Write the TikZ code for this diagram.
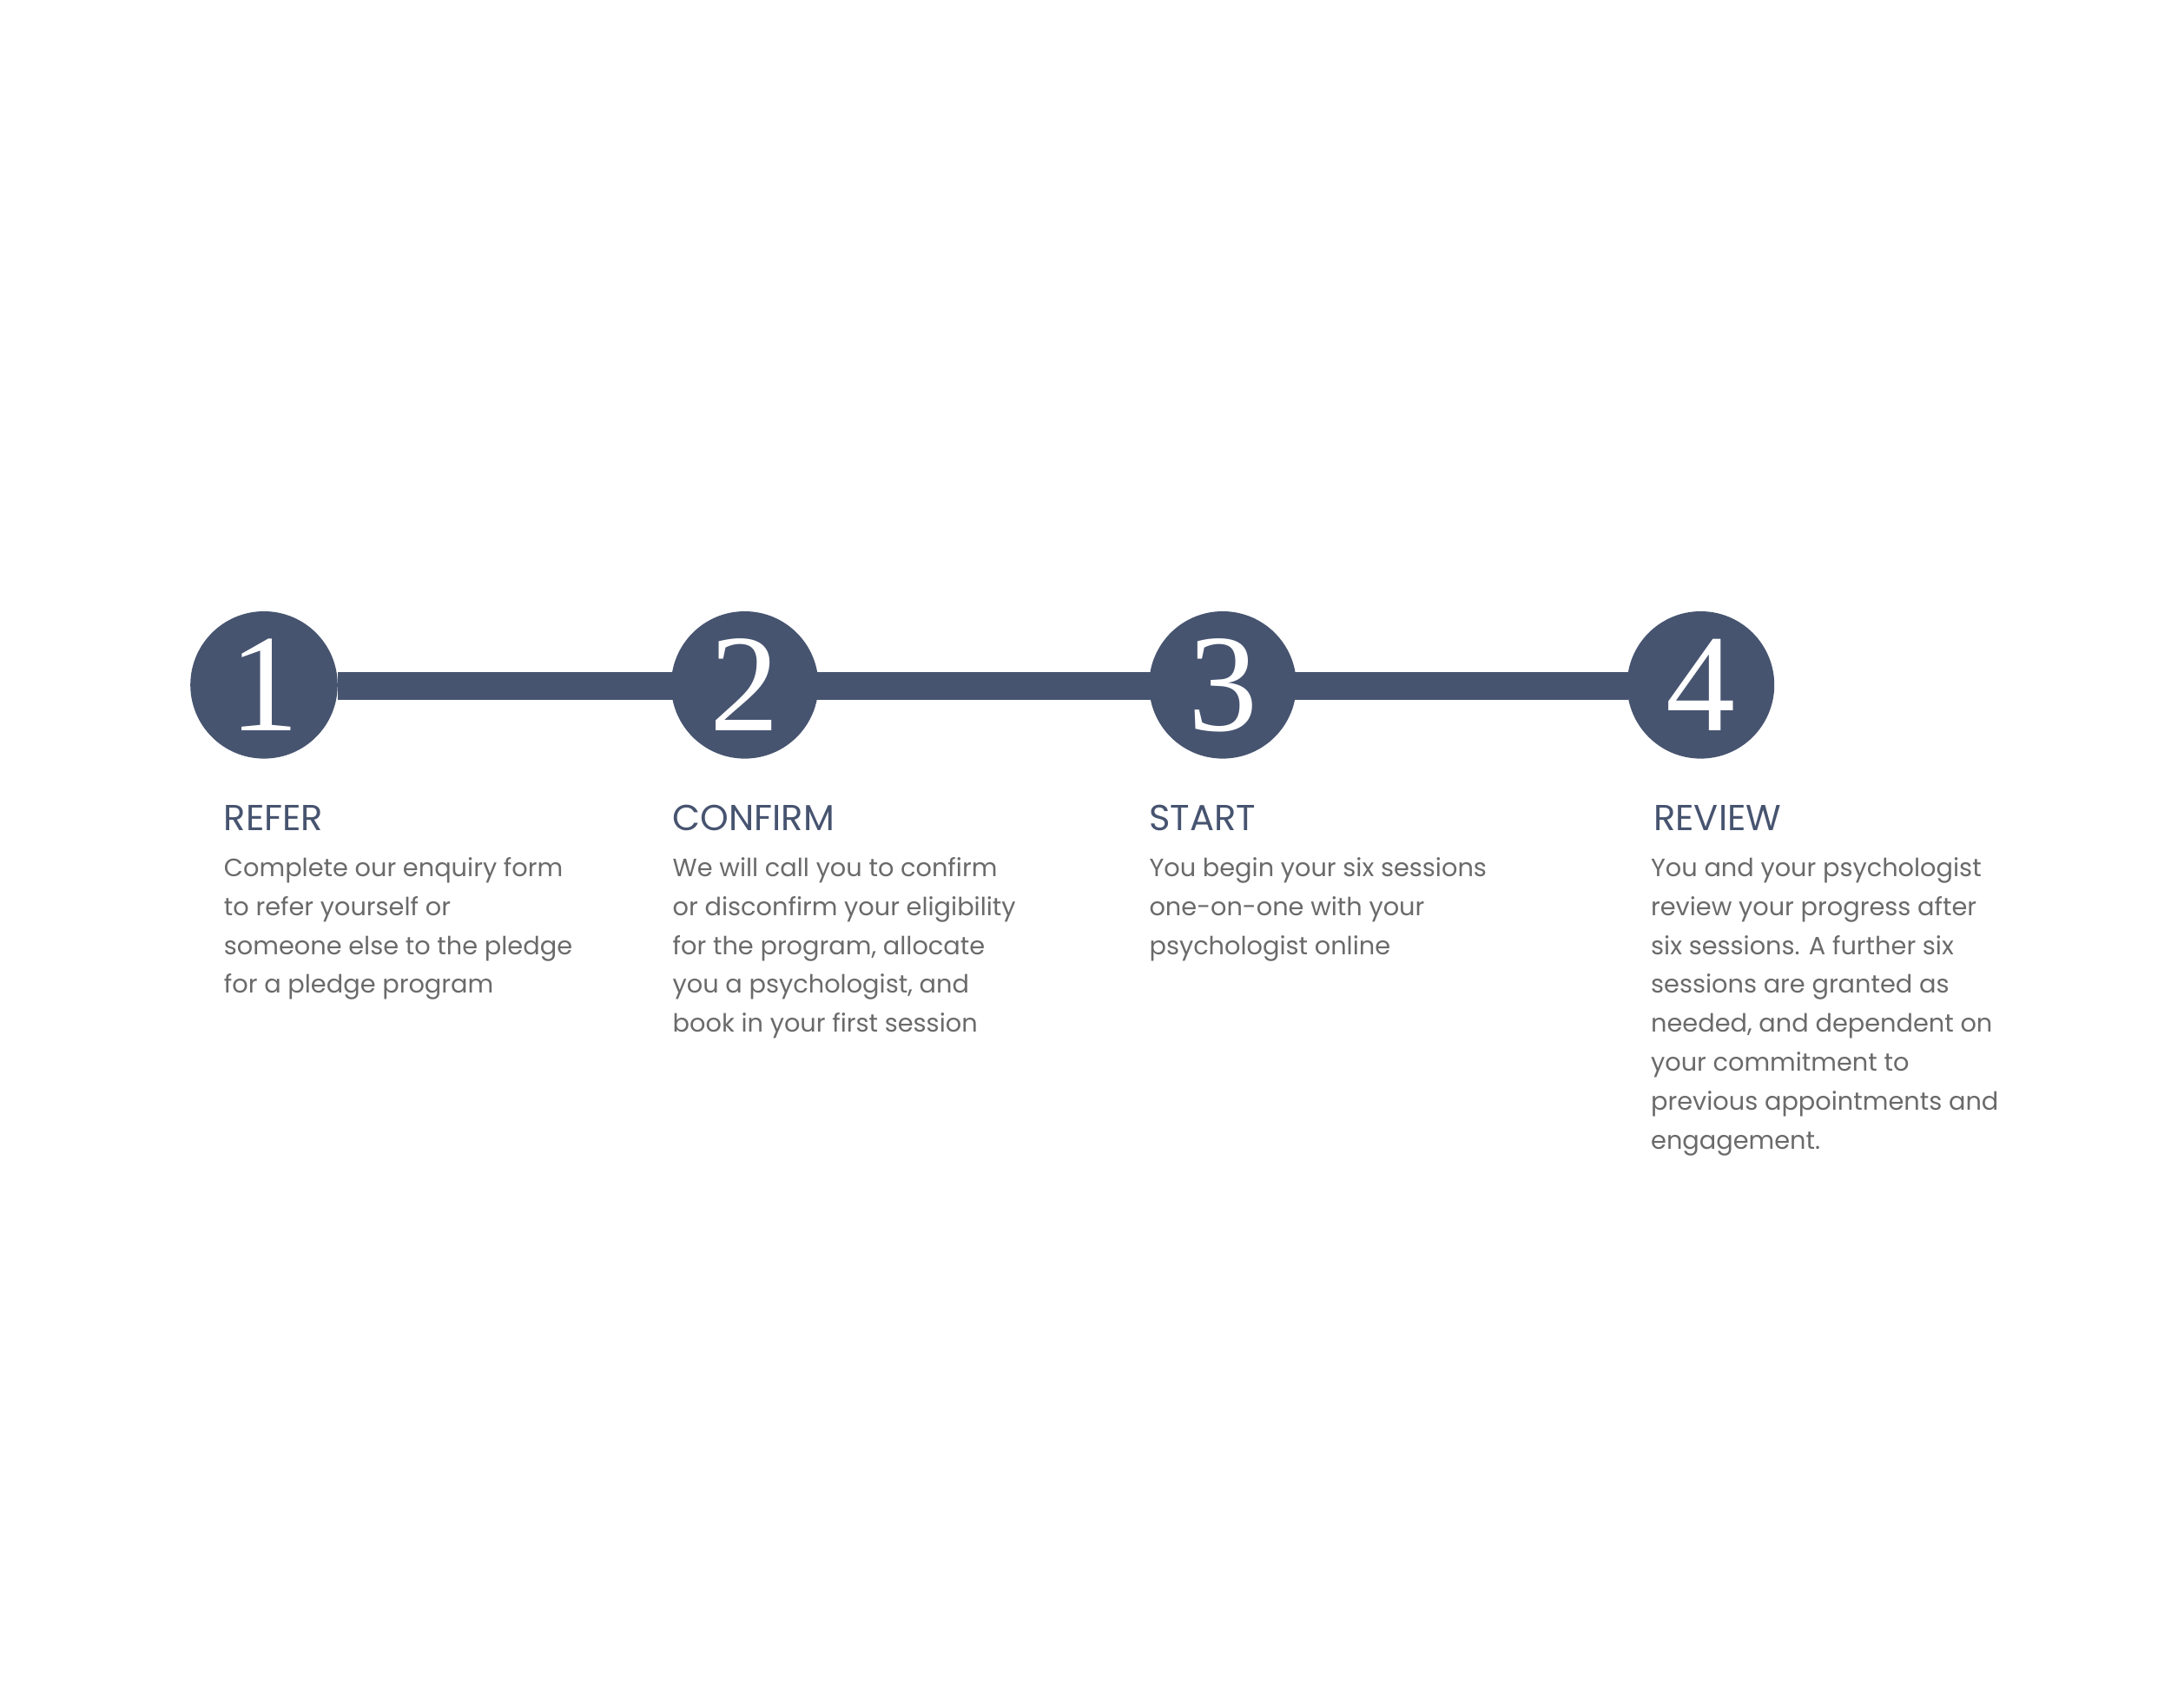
\documentclass[tikz,border=0pt]{standalone}
\usepackage{fontspec}
\setmainfont{Poppins}
\newfontfamily\numfont{Liberation Serif}
\definecolor{navy}{HTML}{475470}
\definecolor{txt}{HTML}{6A6A6A}
\begin{document}
\begin{tikzpicture}[x=1pt,y=-1pt,
  stepcircle/.style={circle,fill=navy,minimum size=106pt,inner sep=0pt,text=white,font=\numfont\fontsize{100}{100}\selectfont},
  title/.style={anchor=base west,inner sep=0pt,text=navy,font=\fontsize{26}{30}\selectfont},
  body/.style={anchor=north west,inner sep=0pt,text=txt,align=left,font=\fontsize{18}{28}\selectfont}]
\useasboundingbox (0,0) rectangle (1562.5,1228.75);
\fill[navy] (243,484) rectangle (1172,504);
\node[stepcircle] (c1) at (190,493) {1};
\node[stepcircle] (c2) at (536,493) {2};
\node[stepcircle] (c3) at (880,493) {3};
\node[stepcircle] (c4) at (1224,493) {4};
\node[title] (t1) at (161,598) {REFER};
\node[title] (t2) at (484,598) {CONFIRM};
\node[title] (t3) at (827,598) {START};
\node[title] (t4) at (1190,598) {REVIEW};
\node[body] (b1) at (161,617) {Complete our enquiry form\\to refer yourself or\\someone else to the pledge\\for a pledge program};
\node[body] (b2) at (484,617) {We will call you to confirm\\or disconfirm your eligibility\\for the program, allocate\\you a psychologist, and\\book in your first session};
\node[body] (b3) at (827,617) {You begin your six sessions\\one-on-one with your\\psychologist online};
\node[body] (b4) at (1188,617) {You and your psychologist\\review your progress after\\six sessions. A further six\\sessions are granted as\\needed, and dependent on\\your commitment to\\previous appointments and\\engagement.};
\end{tikzpicture}
\end{document}
